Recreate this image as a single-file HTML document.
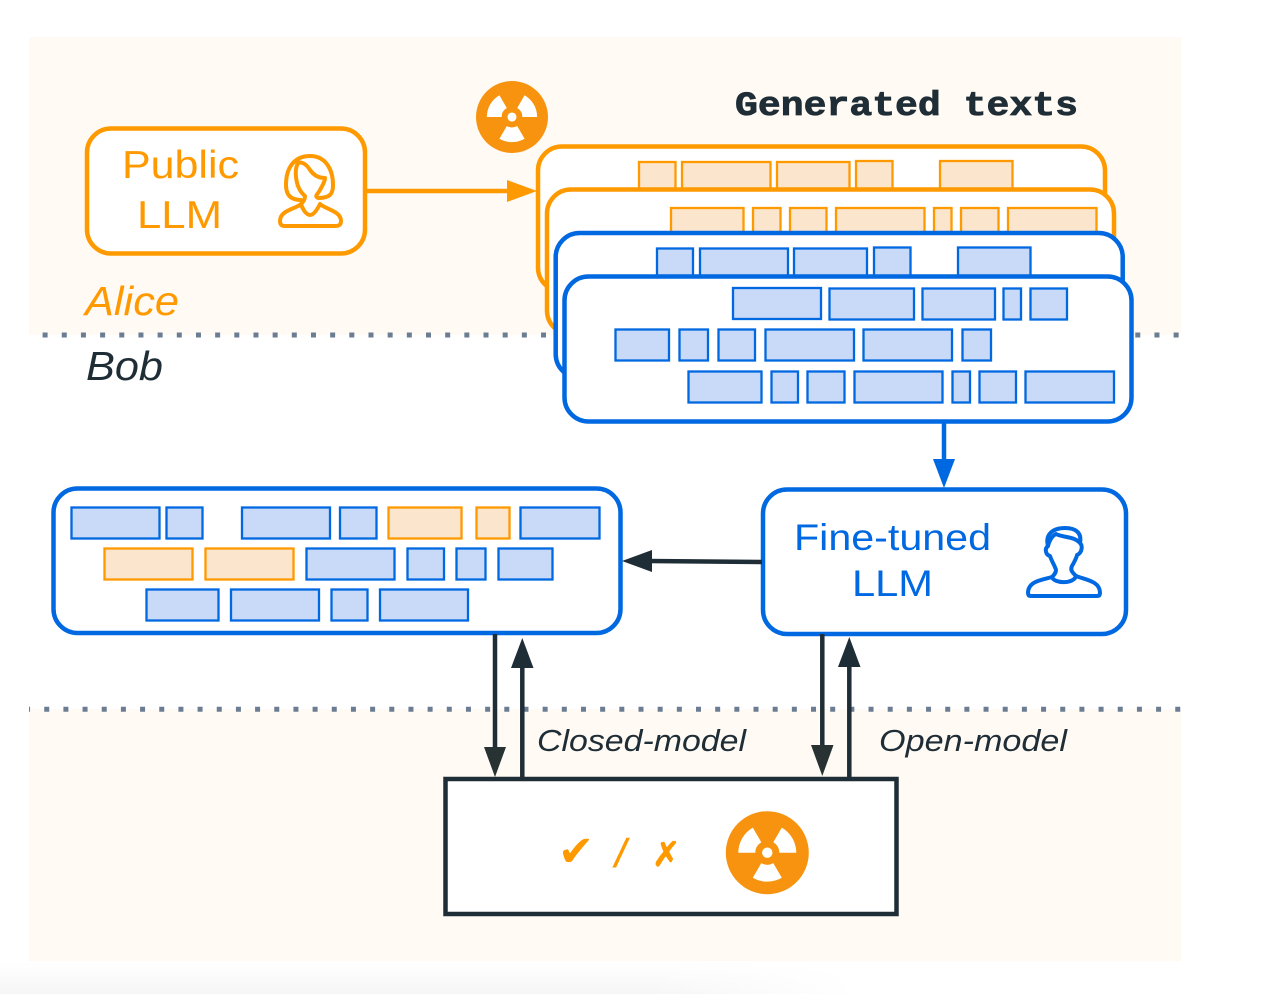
<!DOCTYPE html>
<html><head><meta charset="utf-8"><style>
html,body{margin:0;padding:0;background:#fff;width:1282px;height:994px;overflow:hidden}
svg{display:block}
text{font-family:"Liberation Sans",sans-serif}
.o{fill:#fce5cd;stroke:#ff9900;stroke-width:2.300}
.b{fill:#c9daf8;stroke:#0068e0;stroke-width:2.300}
.co{fill:#fff;stroke:#ff9900;stroke-width:4.500}
.cb{fill:#fff;stroke:#0068e0;stroke-width:4.500}
</style></head><body>
<svg width="1282" height="994" viewBox="0 0 1282 994" xmlns="http://www.w3.org/2000/svg">
<defs>
<linearGradient id="fade" x1="0" y1="0" x2="0" y2="1"><stop offset="0" stop-color="#fff"/><stop offset="1" stop-color="#f6f6f6"/></linearGradient>
<linearGradient id="fadeh" x1="0" y1="0" x2="1" y2="0"><stop offset="0" stop-color="#fff"/><stop offset=".75" stop-color="#fff"/><stop offset="1" stop-color="#000"/></linearGradient>
<mask id="fm"><rect x="0" y="962" width="860" height="32" fill="url(#fadeh)"/></mask>
<g id="rad">
<circle r="41.500" fill="#f7930e"/>
<path fill="#fff" d="M-29 0A29 29 0 0 1-14.500-25.100L-6-10.400A12 12 0 0 0-12 0Z"/>
<path fill="#fff" d="M29 0A29 29 0 0 0 14.500-25.100L6-10.400A12 12 0 0 1 12 0Z"/>
<path fill="#fff" d="M-14.500 25.100A29 29 0 0 0 14.500 25.100L6 10.400A12 12 0 0 1-6 10.400Z"/>
<circle r="11" fill="#f7930e"/>
<circle r="5.200" fill="#fff"/>
</g>
</defs>
<rect x="0" y="962" width="860" height="32" fill="url(#fade)" mask="url(#fm)"/>
<rect x="29" y="37" width="1152" height="298" fill="#fffaf4"/>
<rect x="29" y="709" width="1152" height="252" fill="#fffaf4"/>
<line x1="42.600" y1="335" x2="1181" y2="335" stroke="#6b7d92" stroke-width="5" stroke-dasharray="5 14.170"/>
<line x1="29" y1="709.300" x2="1181" y2="709.300" stroke="#6b7d92" stroke-width="5" stroke-dasharray="5 14.170" stroke-dashoffset="3.950"/>

<!-- Public LLM -->
<rect class="co" x="87" y="128.500" width="278" height="125" rx="24"/>
<text x="122" y="178" font-size="39" fill="#ff9900" textLength="117" lengthAdjust="spacingAndGlyphs">Public</text>
<text x="137" y="228" font-size="39" fill="#ff9900" textLength="85" lengthAdjust="spacingAndGlyphs">LLM</text>
<g fill="none" stroke="#ff9900" stroke-width="4" stroke-linejoin="round" stroke-linecap="round">
<path d="M301 204C296 209 280 210 280 221C280 225 282 226 285 226H335C339 226 341 225 341 221C341 211 325 209 320 204C318 208 314 215 310 215C306 215 302 208 301 204Z"/>
<path d="M301 200C290 200 286 194 286 185C286 168 294 156 310 156C326 156 333 170 333 185C333 194 330 198 318 198C314 196 318 194 320 190C322 186 325 182 325 178C317 178 313 174 310 170C307 165 302 161 298 163C294 170 295 188 305 196C305 200 303 202 301 204"/>
</g>
<line x1="367" y1="191" x2="510" y2="191" stroke="#ff9900" stroke-width="4.500"/>
<path d="M507 180L537 191L507 202Z" fill="#ff9900"/>
<text x="85" y="315" font-size="41" font-style="italic" fill="#ff9900" textLength="94" lengthAdjust="spacingAndGlyphs">Alice</text>
<text x="86" y="380" font-size="41" font-style="italic" fill="#1f2d36" textLength="77" lengthAdjust="spacingAndGlyphs">Bob</text>

<use href="#rad" transform="translate(512 117) scale(.867)"/>
<text x="735" y="115" font-size="34" font-weight="bold" style="font-family:'Liberation Mono',monospace" fill="#1f2d36" stroke="#1f2d36" stroke-width=".8" textLength="343" lengthAdjust="spacingAndGlyphs">Generated texts</text>

<!-- Card 1 -->
<rect class="co" x="538" y="146.500" width="567" height="145" rx="24"/>
<rect class="o" x="639" y="162" width="36.500" height="32"/><rect class="o" x="682" y="162" width="88.500" height="32"/><rect class="o" x="777" y="162" width="72.500" height="32"/><rect class="o" x="856" y="161" width="36.500" height="33"/><rect class="o" x="940" y="161" width="72.500" height="33"/>
<!-- Card 2 -->
<rect class="co" x="547" y="189.500" width="567" height="145" rx="24"/>
<rect class="o" x="671" y="208" width="72.500" height="32"/><rect class="o" x="753" y="208" width="27.500" height="32"/><rect class="o" x="790" y="208" width="36.500" height="32"/><rect class="o" x="836" y="208" width="88.500" height="32"/><rect class="o" x="934" y="208" width="17.500" height="32"/><rect class="o" x="961" y="208" width="37.500" height="32"/><rect class="o" x="1008" y="208" width="88.500" height="32"/>
<!-- Card 3 -->
<rect class="cb" x="555.700" y="233" width="567" height="145" rx="24"/>
<rect class="b" x="657" y="248.500" width="36" height="32"/><rect class="b" x="700" y="248.500" width="88" height="32"/><rect class="b" x="794" y="248.500" width="73" height="32"/><rect class="b" x="874" y="247.500" width="36.500" height="33"/><rect class="b" x="958" y="247.500" width="72.500" height="33"/>
<!-- Card 4 -->
<rect class="cb" x="564.500" y="276.500" width="567" height="145" rx="24"/>
<rect class="b" x="733" y="288" width="88" height="31"/><rect class="b" x="829.500" y="288.500" width="84.500" height="31"/><rect class="b" x="922.500" y="288.500" width="72.500" height="31"/><rect class="b" x="1003.500" y="288.500" width="17.500" height="31"/><rect class="b" x="1030.500" y="288.500" width="36.500" height="31"/>
<rect class="b" x="615.500" y="329.500" width="53.500" height="31"/><rect class="b" x="679.500" y="329.500" width="28.500" height="31"/><rect class="b" x="718.500" y="329.500" width="36.500" height="31"/><rect class="b" x="765.500" y="329.500" width="88.500" height="31"/><rect class="b" x="863.500" y="329.500" width="88.500" height="31"/><rect class="b" x="962.500" y="329.500" width="28.500" height="31"/>
<rect class="b" x="688.500" y="371.500" width="73" height="31"/><rect class="b" x="771.500" y="371.500" width="26.500" height="31"/><rect class="b" x="807.500" y="371.500" width="37" height="31"/><rect class="b" x="854.500" y="371.500" width="88" height="31"/><rect class="b" x="952.500" y="371.500" width="17.500" height="31"/><rect class="b" x="979.500" y="371.500" width="36.500" height="31"/><rect class="b" x="1025.500" y="371.500" width="88.500" height="31"/>

<line x1="944" y1="423" x2="944" y2="462" stroke="#0068e0" stroke-width="4.500"/>
<path d="M933 459L944 488L955 459Z" fill="#0068e0"/>

<!-- Left box -->
<rect class="cb" x="53.500" y="488.500" width="567" height="144.500" rx="24"/>
<rect class="b" x="71.500" y="507.500" width="88" height="31"/><rect class="b" x="166.500" y="507.500" width="36" height="31"/><rect class="b" x="242" y="507.500" width="88" height="31"/><rect class="b" x="340" y="507.500" width="36.500" height="31"/><rect class="o" x="388.500" y="507.500" width="73" height="31"/><rect class="o" x="476.500" y="507.500" width="33" height="31"/><rect class="b" x="520.500" y="507.500" width="79" height="31"/>
<rect class="o" x="104.500" y="548.500" width="88" height="31"/><rect class="o" x="205.500" y="548.500" width="88" height="31"/><rect class="b" x="306.500" y="548.500" width="88" height="31"/><rect class="b" x="407.500" y="548.500" width="36.500" height="31"/><rect class="b" x="456.500" y="548.500" width="29" height="31"/><rect class="b" x="498.500" y="548.500" width="54" height="31"/>
<rect class="b" x="146.500" y="589.500" width="72" height="31"/><rect class="b" x="231" y="589.500" width="88" height="31"/><rect class="b" x="331.500" y="589.500" width="36" height="31"/><rect class="b" x="380" y="589.500" width="88" height="31"/>

<!-- Fine-tuned box -->
<rect class="cb" x="763" y="489.500" width="363" height="144.500" rx="24"/>
<text x="794" y="550" font-size="37" fill="#0068e0" textLength="197" lengthAdjust="spacingAndGlyphs">Fine-tuned</text>
<text x="852" y="596" font-size="37" fill="#0068e0" textLength="81" lengthAdjust="spacingAndGlyphs">LLM</text>
<g fill="none" stroke="#0068e0" stroke-width="4" stroke-linejoin="round" stroke-linecap="round">
<path d="M1052 577C1042 580 1028 581 1028 593C1028 595 1029 596 1031 596H1097C1099 596 1100 595 1100 593C1100 581 1086 580 1076 576"/>
<path d="M1052 577C1054 584 1074 584 1076 576C1072 572 1070 570 1072 566C1075 561 1077 556 1077 555C1082 553 1083 546 1080 543C1082 533 1076 528 1065 528C1052 528 1045 535 1048 546C1044 549 1046 555 1050 556C1052 562 1055 566 1056 570C1056 573 1054 575 1052 577Z"/>
<path d="M1048 546C1049 541 1052 536 1056 534C1064 538 1074 536 1080 543"/>
</g>

<!-- Arrows -->
<line x1="762" y1="562" x2="648" y2="561" stroke="#1f2d36" stroke-width="4.500"/>
<path d="M652 550L622 561L652 572Z" fill="#1f2d36"/>
<g stroke="#1f2d36" stroke-width="4.500">
<line x1="495" y1="634" x2="495" y2="750"/><line x1="522.300" y1="665" x2="522.300" y2="779"/>
<line x1="822.300" y1="634" x2="822.300" y2="748"/><line x1="849.300" y1="664" x2="849.300" y2="779"/>
</g>
<g fill="#1f2d36">
<path fill="#283233" d="M484 747L495 777L506 747Z"/><path d="M511 668L522.300 638L533.500 668Z"/>
<path fill="#283233" d="M811 745L822.300 776L833.500 745Z"/><path d="M838 667L849.300 637L860.500 667Z"/>
</g>
<text x="537" y="751" font-size="31" font-style="italic" fill="#1f2d36" textLength="209" lengthAdjust="spacingAndGlyphs">Closed-model</text>
<text x="879" y="751" font-size="31" font-style="italic" fill="#1f2d36" textLength="188" lengthAdjust="spacingAndGlyphs">Open-model</text>

<!-- Bottom box -->
<rect x="445.500" y="779" width="451" height="135" fill="#fff" stroke="#1f2d36" stroke-width="4.500"/>
<text x="558" y="866" font-size="43" fill="#ff9900" style="font-family:'DejaVu Sans',sans-serif" font-style="italic">✔</text>
<text x="615" y="867" font-size="40" fill="#ff9900" font-style="italic" stroke="#ff9900" stroke-width=".5">/</text>
<text x="652" y="866" font-size="34" fill="#ff9900" stroke="#ff9900" stroke-width=".8" style="font-family:'DejaVu Sans',sans-serif">✗</text>
<use href="#rad" transform="translate(767.300 852.700)"/>
</svg>
</body></html>
